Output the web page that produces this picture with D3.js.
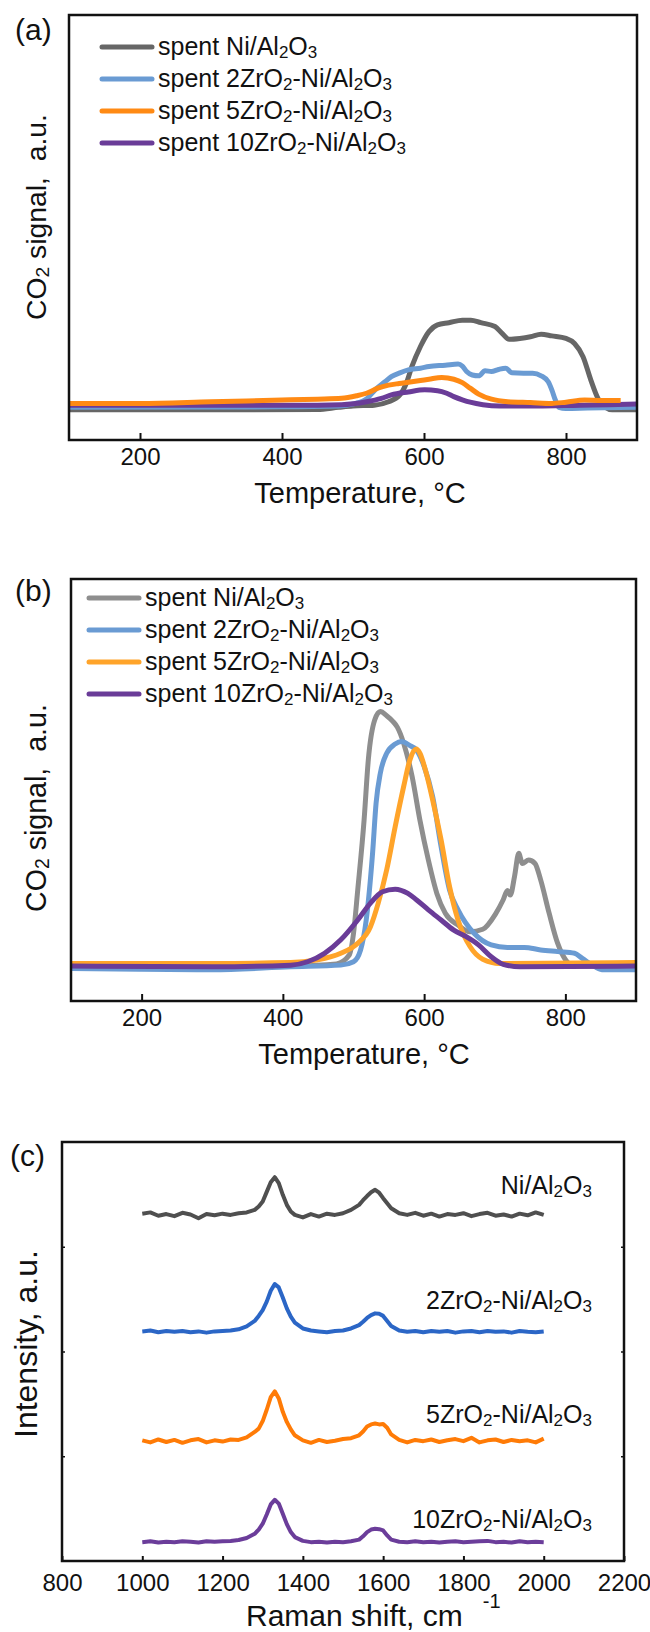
<!DOCTYPE html>
<html>
<head>
<meta charset="utf-8">
<script src="https://cdn.jsdelivr.net/npm/d3@7"></script>
<style>
  body { margin: 0; background: #fff; }
  svg text { font-family: "Liberation Sans", Arial, Helvetica, sans-serif; fill: #111; }
</style>
</head>
<body>
<svg id="fig"></svg>
<script>
// ---- legend / label text ("_d" = subscript digit)
const tpoLabels = ['spent Ni/Al_2O_3', 'spent 2ZrO_2-Ni/Al_2O_3', 'spent 5ZrO_2-Ni/Al_2O_3', 'spent 10ZrO_2-Ni/Al_2O_3'];
const ramanLabels = ['Ni/Al_2O_3', '2ZrO_2-Ni/Al_2O_3', '5ZrO_2-Ni/Al_2O_3', '10ZrO_2-Ni/Al_2O_3'];
const tpoTicks = [200, 400, 600, 800];
const ramanTicks = [800, 1000, 1200, 1400, 1600, 1800, 2000, 2200];

// ---- (a) CO2 signal, [temperature, a.u.]
const tpoA_ni = [[100,7.1],[300,7.1],[450,7.2],[480,7.7],[500,8.0],[530,8.2],[550,9.0],[566,10.6],[575,13.3],[583,17.3],[595,22.0],[607,25.5],[619,27.1],[635,27.6],[654,28.2],[666,28.2],[680,27.6],[700,26.7],[710,25.1],[720,23.7],[735,23.9],[750,24.3],[765,24.9],[780,24.5],[800,23.9],[812,22.7],[824,19.6],[835,14.1],[845,9.8],[855,7.7],[865,7.1],[900,7.1]];
const tpoA_2zr = [[100,7.7],[400,7.8],[480,8.0],[501,8.5],[520,9.8],[531,11.8],[545,13.7],[554,14.9],[566,15.8],[578,16.5],[595,16.9],[607,17.3],[630,17.6],[648,17.9],[654,17.4],[660,16.1],[668,15.3],[677,15.1],[686,16.3],[695,16.1],[705,16.6],[715,16.9],[724,15.8],[740,15.7],[753,15.7],[765,15.1],[775,13.7],[780,11.8],[785,9.4],[790,7.7],[800,7.4],[830,7.5],[900,7.7]];
const tpoA_5zr = [[100,8.6],[200,8.6],[300,9.0],[400,9.4],[450,9.6],[484,9.8],[505,10.4],[519,11.0],[535,12.2],[550,12.9],[565,13.3],[578,13.6],[595,14.0],[607,14.3],[625,14.7],[642,14.3],[654,13.5],[665,12.2],[677,10.8],[695,9.6],[718,9.0],[750,8.8],[780,8.6],[800,8.9],[826,9.4],[850,9.3],[877,9.3]];
const tpoA_10zr = [[100,8.2],[300,8.2],[450,8.2],[484,8.3],[519,9.0],[540,9.8],[554,10.6],[578,11.3],[601,11.8],[619,11.6],[632,11.0],[642,10.2],[655,9.4],[665,8.9],[683,8.3],[707,8.0],[760,8.0],[820,8.2],[860,8.3],[900,8.5]];

// ---- (b) CO2 signal, [temperature, a.u.]
const tpoB_ni = [[100,8.5],[300,8.3],[447,8.5],[476,8.8],[494,10.9],[500,16.0],[506,26.3],[515,42.9],[521,57.2],[530,66.6],[538,68.6],[547,67.6],[556,66.2],[562,64.9],[571,61.1],[583,53.2],[594,42.9],[606,33.4],[618,25.5],[630,20.8],[648,18.0],[665,16.4],[683,17.0],[701,20.6],[712,24.0],[718,26.2],[722,25.1],[728,29.5],[734,35.0],[739,32.6],[748,33.4],[757,32.6],[765,28.7],[777,20.8],[789,13.7],[801,9.6],[813,8.3],[900,8.3]];
const tpoB_2zr = [[100,7.7],[200,7.5],[300,7.4],[411,8.1],[482,8.5],[500,9.3],[510,12.1],[518,19.2],[527,35.0],[532,46.9],[538,54.0],[547,58.7],[559,60.9],[568,61.5],[580,60.5],[589,59.5],[600,55.6],[612,48.5],[624,36.6],[636,26.3],[648,21.6],[671,16.0],[695,13.3],[718,12.7],[742,12.7],[765,12.1],[789,11.7],[813,11.3],[824,10.1],[842,8.1],[854,7.4],[900,7.4]];
const tpoB_5zr = [[100,8.9],[300,8.9],[411,9.1],[447,9.7],[482,11.3],[506,13.7],[524,17.6],[535,23.2],[547,31.1],[559,41.3],[571,50.8],[580,57.2],[589,59.7],[594,58.7],[603,54.0],[612,47.7],[624,38.2],[636,27.1],[648,19.2],[665,12.9],[683,9.9],[707,8.9],[900,9.1]];
const tpoB_10zr = [[100,8.3],[300,8.1],[411,8.5],[435,9.3],[459,11.3],[482,14.5],[506,19.2],[524,23.2],[541,25.9],[559,26.5],[577,25.5],[589,24.0],[606,21.6],[624,19.2],[642,16.8],[659,15.3],[677,13.3],[695,10.5],[712,8.7],[736,8.1],[900,8.3]];

// ---- (c) Raman, shift in cm-1 and intensity above each offset
const ramanX = [1000,1020,1040,1060,1080,1100,1120,1140,1160,1180,1200,1220,1240,1260,1280,
  1290,1300,1310,1320,1330,1340,1350,1360,1370,1380,
  1400,1420,1440,1460,1480,1500,1520,1540,
  1550,1560,1570,1580,1590,1600,1610,1620,
  1640,1660,1680,1700,1720,1740,1760,1780,1800,1820,1840,1860,1880,1900,1920,1940,1960,1980,2000];
const ramanNi = [0.3,0.6,-0.2,0.2,-0.3,0.5,0.1,-0.8,0.2,-0.1,0.3,0.0,0.4,0.6,1.2,
  2.0,3.2,5.5,7.8,9.0,7.6,4.8,2.4,0.8,0.0,
  -0.6,0.2,-0.4,0.3,0.0,0.4,1.2,2.4,
  3.5,4.5,5.4,6.0,5.3,4.0,2.8,1.6,
  0.4,0.0,0.5,-0.2,0.3,-0.4,0.2,0.0,0.4,-0.3,0.2,0.5,-0.2,0.1,-0.4,0.3,-0.1,0.6,0.0];
const raman2Zr = [0.1,0.3,-0.1,0.2,0.0,0.2,-0.1,0.1,-0.2,0.1,0.2,0.3,0.6,1.3,2.6,
  3.8,5.2,7.2,9.8,11.4,10.6,8.2,5.6,3.6,2.2,
  0.8,0.3,0.1,-0.1,0.2,0.3,0.8,1.6,
  2.4,3.3,4.0,4.4,4.3,3.8,2.6,1.4,
  0.3,0.0,0.2,-0.1,0.2,0.0,0.2,-0.2,0.1,0.2,-0.1,0.2,0.0,0.1,-0.2,0.2,0.0,-0.1,0.1];
const raman5Zr = [0.2,-0.3,0.4,-0.2,0.3,-0.4,0.2,0.5,-0.3,0.2,-0.1,0.4,0.3,0.9,2.2,
  3.0,4.8,7.5,10.5,11.9,10.2,7.0,4.6,2.8,1.4,
  0.2,-0.4,0.3,-0.2,0.1,0.5,0.7,1.4,
  2.3,3.5,4.0,4.2,4.0,4.1,3.2,1.6,
  0.3,-0.3,0.3,0.0,0.4,-0.2,0.2,0.5,0.0,0.8,-0.3,0.2,0.4,-0.2,0.3,0.0,0.2,-0.3,0.6];
const raman10Zr = [0.0,0.2,-0.1,0.1,0.0,0.2,0.1,-0.1,0.2,0.1,0.2,0.3,0.5,1.0,2.0,
  3.0,4.4,6.6,9.0,10.1,9.2,6.8,4.3,2.4,1.2,
  0.3,0.0,0.1,-0.1,0.1,0.0,0.2,0.6,
  1.4,2.4,3.0,3.2,3.1,2.8,1.6,0.6,
  0.1,0.0,0.2,0.0,0.1,-0.1,0.1,0.2,0.0,0.1,0.2,0.3,0.0,0.1,-0.1,0.2,0.0,0.1,0.0];
const ramanOffsets = [82.6, 54.7, 28.6, 4.5];

const font = '"Liberation Sans", Arial, Helvetica, sans-serif';

const svg = d3.select('#fig').attr('width', 650).attr('height', 1632);

// write a label with "_d" subscripts as tspans
function rich(text, str, fs) {
  const parts = str.split(/_(\d)/);
  let shift = 0;
  parts.forEach((p, i) => {
    if (!p) return;
    const sub = i % 2 === 1;
    const target = sub ? Math.round(fs * 0.1) : 0;
    text.append('tspan')
      .attr('font-size', sub ? fs * 0.68 : fs)
      .attr('dy', target - shift)
      .text(p);
    shift = target;
  });
  return text;
}

// same, but sized so the whole label runs a given length
function richFit(text, str, fs, len) {
  rich(text, str, fs);
  const got = text.node().getComputedTextLength();
  if (got > 0) {
    text.selectAll('tspan').remove();
    rich(text, str, fs * len / got);
  }
  return text;
}

function styleAxis(axis) {
  axis.select('.domain').remove();
  axis.selectAll('line').attr('stroke', '#111').attr('stroke-width', 2);
  axis.selectAll('text').attr('font-size', 24).attr('font-family', font).attr('fill', '#111');
}

function drawTpo(cfg) {
  const g = svg.append('g');
  const b = cfg.box;

  const x = d3.scaleLinear().domain([100, 900]).range([b.left, b.right]);
  const y = d3.scaleLinear().domain([0, 100]).range([b.bottom, b.top]);

  g.append('clipPath').attr('id', cfg.id)
    .append('rect')
    .attr('x', b.left).attr('y', b.top)
    .attr('width', b.right - b.left).attr('height', b.bottom - b.top);

  const line = d3.line()
    .x(d => x(d[0]))
    .y(d => y(d[1]))
    .curve(d3.curveMonotoneX);

  const lines = g.append('g').attr('clip-path', `url(#${cfg.id})`);
  cfg.order.forEach(i => {
    lines.append('path')
      .datum(cfg.series[i])
      .attr('fill', 'none')
      .attr('stroke', cfg.colors[i])
      .attr('stroke-width', 5)
      .attr('stroke-linejoin', 'round')
      .attr('d', line);
  });

  // bottom axis, ticks pointing in
  const axis = g.append('g')
    .attr('transform', `translate(0,${b.bottom})`)
    .call(d3.axisBottom(x).tickValues(tpoTicks).tickSizeInner(-7).tickSizeOuter(0).tickPadding(8));
  styleAxis(axis);

  g.append('rect')
    .attr('x', b.left).attr('y', b.top)
    .attr('width', b.right - b.left).attr('height', b.bottom - b.top)
    .attr('fill', 'none').attr('stroke', '#111').attr('stroke-width', 2.5);

  // legend
  const lg = cfg.legend;
  tpoLabels.forEach((lab, i) => {
    const ly = lg.y + i * 32;
    g.append('line')
      .attr('x1', lg.x).attr('x2', lg.x + 50)
      .attr('y1', ly).attr('y2', ly)
      .attr('stroke', cfg.colors[i]).attr('stroke-width', 5)
      .attr('stroke-linecap', 'round');
    rich(g.append('text').attr('x', lg.x + 56).attr('y', ly + 8), lab, 25);
  });

  g.append('text')
    .attr('x', 15).attr('y', cfg.tagY)
    .attr('font-size', 30)
    .text(cfg.tag);

  g.append('text')
    .attr('x', cfg.titleX).attr('y', b.bottom + 63)
    .attr('text-anchor', 'middle')
    .attr('font-size', 29)
    .text('Temperature, \u00B0C');

  // rotated title, read upward from its lower end
  const yt = g.append('text')
    .attr('transform', `translate(46,${cfg.yTitle[0]}) rotate(-90)`);
  richFit(yt, 'CO_2 signal,\u00A0\u00A0a.u.', 29, cfg.yTitle[0] - cfg.yTitle[1]);
}

drawTpo({
  id: 'clipA',
  tag: '(a)', tagY: 40,
  box: {left: 69, right: 637, top: 15, bottom: 440},
  series: [tpoA_ni, tpoA_2zr, tpoA_5zr, tpoA_10zr],
  colors: ['#666666', '#6a9bd3', '#ff8a14', '#6a3c98'],
  order: [0, 1, 3, 2],
  legend: {x: 102, y: 47},
  titleX: 360,
  yTitle: [320, 114]
});

drawTpo({
  id: 'clipB',
  tag: '(b)', tagY: 601,
  box: {left: 71, right: 636, top: 579, bottom: 1001},
  series: [tpoB_ni, tpoB_2zr, tpoB_5zr, tpoB_10zr],
  colors: ['#8e8e8e', '#6a9bd3', '#ffa42a', '#6a3c98'],
  order: [0, 1, 2, 3],
  legend: {x: 89, y: 598},
  titleX: 364,
  yTitle: [912, 704]
});

// ---- (c) Raman
(function drawRaman() {
  const g = svg.append('g');
  const b = {left: 62, right: 624, top: 1142, bottom: 1561};
  const colors = ['#4f4f4f', '#2b66c6', '#ff7b06', '#6b3d9a'];
  const series = [ramanNi, raman2Zr, raman5Zr, raman10Zr];
  const labelY = [1194, 1309, 1423, 1528];

  const x = d3.scaleLinear().domain([800, 2200]).range([b.left, b.right]);
  const y = d3.scaleLinear().domain([0, 100]).range([b.bottom, b.top]);

  const line = d3.line()
    .x((d, i) => x(ramanX[i]))
    .y(d => y(d));

  series.forEach((s, k) => {
    g.append('path')
      .datum(s.map(v => v + ramanOffsets[k]))
      .attr('fill', 'none')
      .attr('stroke', colors[k])
      .attr('stroke-width', 4)
      .attr('stroke-linejoin', 'round')
      .attr('d', line);
    rich(g.append('text').attr('x', 592).attr('y', labelY[k]).attr('text-anchor', 'end'),
      ramanLabels[k], 25);
  });

  const axis = g.append('g')
    .attr('transform', `translate(0,${b.bottom})`)
    .call(d3.axisBottom(x).tickValues(ramanTicks).tickFormat(d3.format('d'))
      .tickSizeInner(-5).tickSizeOuter(0).tickPadding(13));
  styleAxis(axis);

  // tiny marks on the side axes
  [[d3.axisLeft, b.left], [d3.axisRight, b.right]].forEach(([mk, px]) => {
    const a = g.append('g').attr('transform', `translate(${px},0)`)
      .call(mk(y).tickValues([25, 50, 75]).tickSizeInner(-3).tickSizeOuter(0).tickFormat(''));
    a.select('.domain').remove();
    a.selectAll('line').attr('stroke', '#111').attr('stroke-width', 1.5);
  });

  g.append('rect')
    .attr('x', b.left).attr('y', b.top)
    .attr('width', b.right - b.left).attr('height', b.bottom - b.top)
    .attr('fill', 'none').attr('stroke', '#111').attr('stroke-width', 2.5);

  g.append('text').attr('x', 10).attr('y', 1166).attr('font-size', 30).text('(c)');

  const xt = g.append('text')
    .attr('x', 246).attr('y', 1626)
    .attr('font-size', 30);
  xt.append('tspan').text('Raman shift, cm');
  xt.append('tspan').attr('font-size', 20).attr('dy', -18).attr('dx', 20).text('-1');

  const it = g.append('text')
    .attr('transform', `translate(37,1438) rotate(-90)`);
  richFit(it, 'Intensity, a.u.', 30, 188);
})();
</script>
</body>
</html>
